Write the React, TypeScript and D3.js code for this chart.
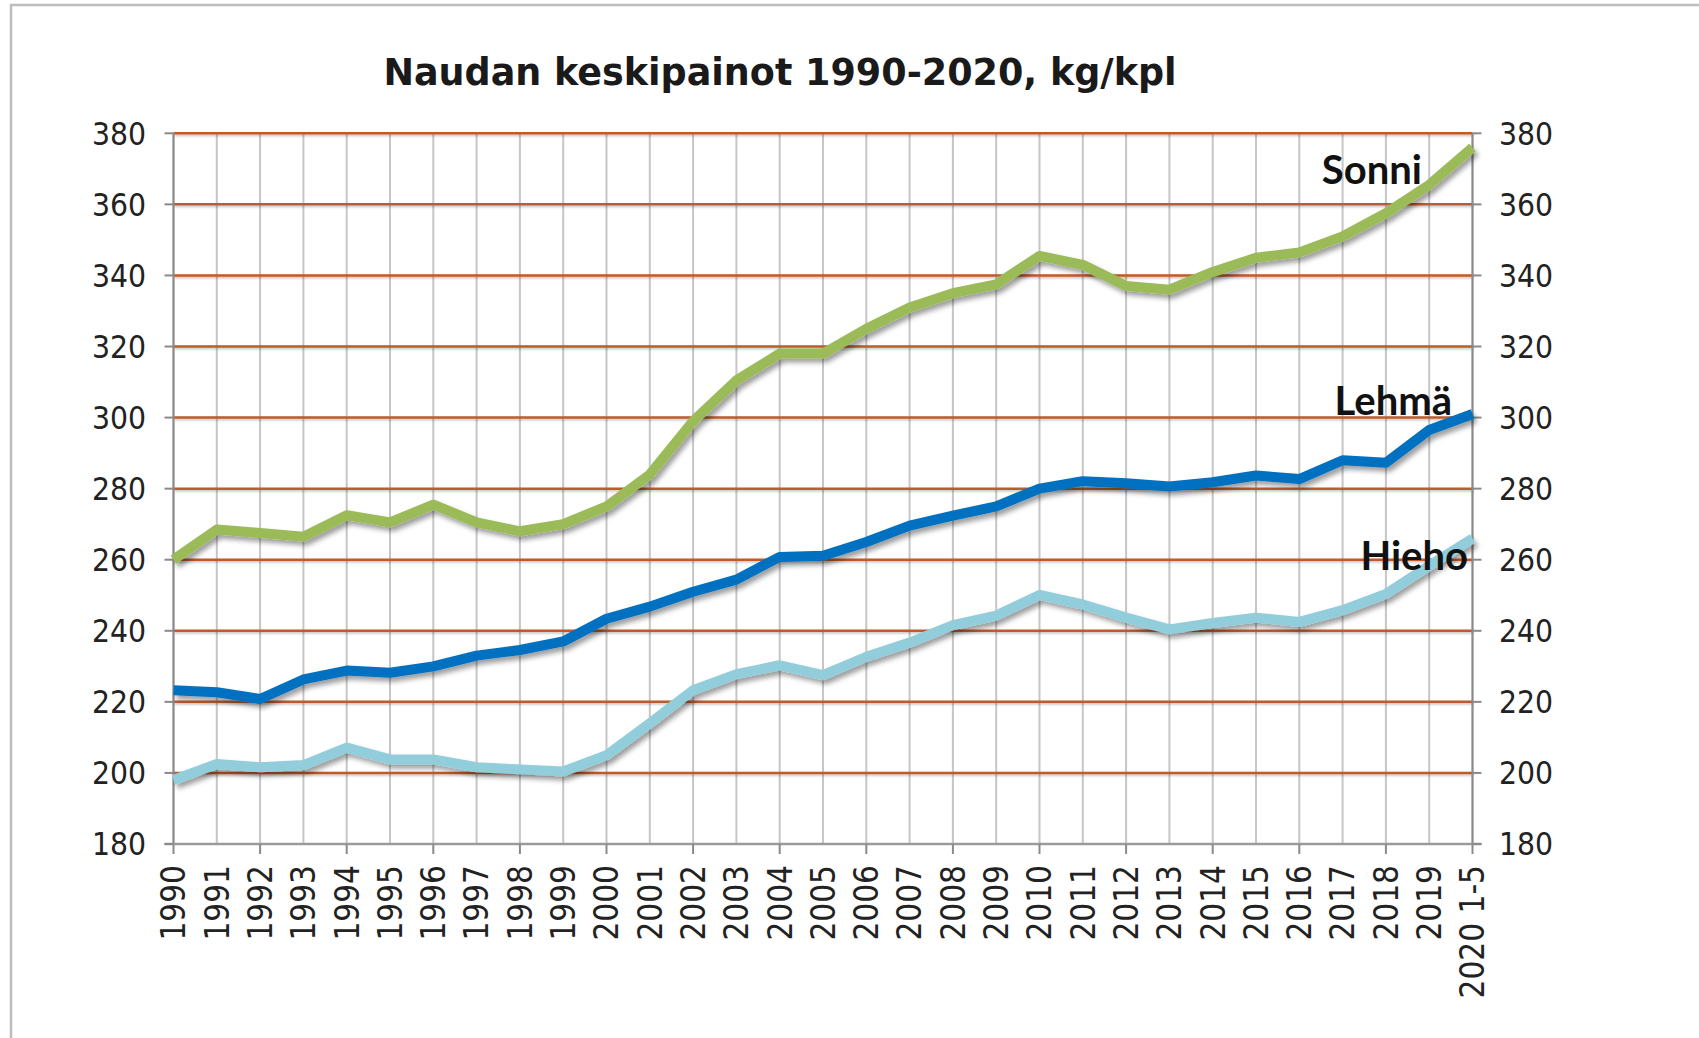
import React from 'react';
import * as d3 from 'd3';

const years = ['1990','1991','1992','1993','1994','1995','1996','1997','1998','1999','2000','2001','2002','2003','2004','2005','2006','2007','2008','2009','2010','2011','2012','2013','2014','2015','2016','2017','2018','2019','2020 1-5'];
const sonni = [260,268.5,267.5,266.5,272.5,270.5,275.5,270.5,268,270,275,284,299,310.5,318,318,325,331,335,337.5,345.5,343,337,336,341,345,346.5,351,357.5,365.5,376];
const lehma = [223.3,222.7,220.8,226.3,228.8,228.2,230,233,234.6,237,243.4,246.8,251,254.4,260.8,261.1,265,269.6,272.4,275,280,282.1,281.5,280.6,281.8,283.7,282.7,288,287.3,296.5,301];
const hieho = [198,202.5,201.6,202.2,207.1,203.8,203.8,201.6,201,200.4,205,214,223.3,227.8,230.3,227.5,232.7,236.7,241.6,244.3,250.1,247.4,243.7,240.4,242.2,243.7,242.5,245.8,250.4,258.3,266];
const yTicks = [180,200,220,240,260,280,300,320,340,360,380];
const title = 'Naudan keskipainot 1990-2020, kg/kpl';
const seriesNames = ['Sonni','Lehmä','Hieho'];
const seriesColors = ['#9BBB59','#0070C0','#92CDDC'];

export default function App() {
  const W = 1699, H = 1038;
  const left = 173.5, right = 1472.5, top = 133.3, bottom = 844;
  const x = d3.scalePoint<string>().domain(years).range([left, right]).padding(0);
  const y = d3.scaleLinear().domain([180, 380]).range([bottom, top]);
  const line = d3.line<number>().x((_, i) => x(years[i]) as number).y(d => y(d));
  const series = [sonni, lehma, hieho];
  const tickFont = "'DejaVu Sans Condensed', 'DejaVu Sans', sans-serif";
  const labelPos = [
    { x: 1422, y: 170 },
    { x: 1452, y: 401 },
    { x: 1468, y: 556 },
  ];
  return (
    <svg width={W} height={H} style={{ position: 'absolute', left: 0, top: 0, background: '#fff' }}>
      <defs>
        <filter id="shadow" x="-5%" y="-5%" width="110%" height="120%">
          <feDropShadow dx="3" dy="4" stdDeviation="2.5" floodColor="#000" floodOpacity="0.38" />
        </filter>
        <filter id="gshadow" x="-5%" y="-50%" width="110%" height="300%">
          <feDropShadow dx="1" dy="1.5" stdDeviation="1" floodColor="#000" floodOpacity="0.25" />
        </filter>
      </defs>
      <rect x={0} y={0} width={W} height={H} fill="#fff" />
      <path d={`M11,${H + 5} L11,5 L${W + 5},5`} fill="none" stroke="#BDBDBD" strokeWidth={2.5} />
      <text x={780} y={85} textAnchor="middle" fontFamily="'DejaVu Sans', sans-serif" fontWeight="bold" fontSize={36.5} fill="#1a1a1a">{title}</text>
      {years.map((yr) => (
        <line key={'v' + yr} x1={x(yr)} x2={x(yr)} y1={top} y2={bottom} stroke="#C6C6C6" strokeWidth={2} />
      ))}
      <g filter="url(#gshadow)">
        {yTicks.filter(t => t > 180).map(t => (
          <line key={'h' + t} x1={left} x2={right} y1={y(t)} y2={y(t)} stroke="#C05A2A" strokeWidth={2.5} />
        ))}
      </g>
      <line x1={left} x2={left} y1={top} y2={bottom} stroke="#8A8A8A" strokeWidth={2} />
      <line x1={right} x2={right} y1={top} y2={bottom} stroke="#8A8A8A" strokeWidth={2} />
      <line x1={left - 9} x2={right + 9} y1={bottom} y2={bottom} stroke="#9A9A9A" strokeWidth={2.5} />
      {yTicks.map(t => (
        <g key={'t' + t}>
          <line x1={left - 9} x2={left} y1={y(t)} y2={y(t)} stroke="#8A8A8A" strokeWidth={2} />
          <line x1={right} x2={right + 9} y1={y(t)} y2={y(t)} stroke="#8A8A8A" strokeWidth={2} />
          <text x={146} y={y(t)} dy="0.36em" textAnchor="end" fontFamily={tickFont} fontSize={31.5} fill="#222">{t}</text>
          <text x={1499} y={y(t)} dy="0.36em" textAnchor="start" fontFamily={tickFont} fontSize={31.5} fill="#222">{t}</text>
        </g>
      ))}
      {years.map((yr, i) => (
        <g key={'x' + yr}>
          {i % 2 === 0 && <line x1={x(yr)} x2={x(yr)} y1={bottom} y2={bottom + 10} stroke="#8A8A8A" strokeWidth={2} />}
          <text transform={`translate(${(x(yr) as number)},${bottom + 21}) rotate(-90)`} dy="0.36em" textAnchor="end" fontFamily={tickFont} fontSize={33} fill="#222">{yr}</text>
        </g>
      ))}
      {series.map((s, k) => (
        <path key={'s' + k} d={line(s) as string} fill="none" stroke={seriesColors[k]} strokeWidth={10} strokeLinejoin="round" filter="url(#shadow)" />
      ))}
      {seriesNames.map((n, k) => (
        <text key={'l' + n} x={labelPos[k].x} y={labelPos[k].y} dy="0.36em" textAnchor="end" fontFamily="Lato, sans-serif" fontWeight="bold" fontSize={40} fill="#111">{n}</text>
      ))}
    </svg>
  );
}
